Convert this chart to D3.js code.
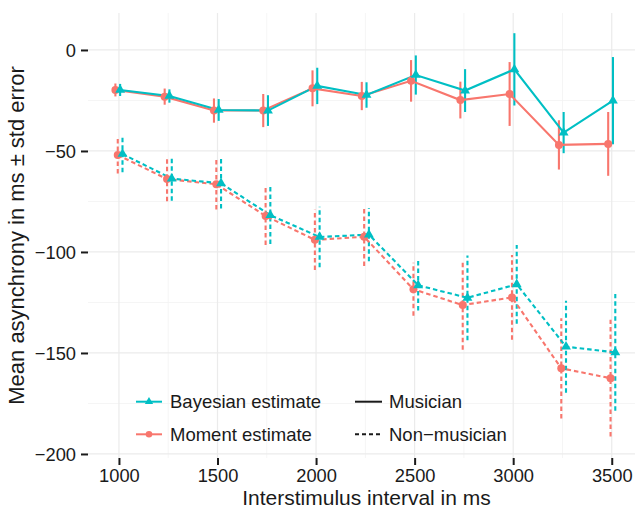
<!DOCTYPE html>
<html>
<head>
<meta charset="utf-8">
<script src="https://cdn.jsdelivr.net/npm/d3@7"></script>
<style>
  html, body { margin: 0; padding: 0; background: #fff; }
  svg { display: block; font-family: "Liberation Sans", Arial, Helvetica, sans-serif; }
</style>
</head>
<body>
<svg id="chart" width="635" height="509"></svg>
<script>
// Interstimulus intervals (ms)
const isi = [1000, 1250, 1500, 1750, 2000, 2250, 2500, 2750, 3000, 3250, 3500];

// Musicians: mean asynchrony and standard error (ms)
const musMomentMean  = [-19.8, -23.1, -30.0, -30.0, -19.0, -22.8, -15.3, -24.8, -21.8, -47.0, -46.5];
const musMomentSe    = [3.2, 4.0, 6.0, 8.2, 8.9, 7.0, 10.3, 9.1, 15.8, 12.2, 15.8];
const musBayesMean   = [-19.8, -22.8, -29.7, -30.0, -17.8, -22.3, -12.4, -20.1, -9.6, -40.9, -25.1];
const musBayesSe     = [3.0, 3.3, 5.4, 7.6, 9.0, 6.3, 9.7, 10.6, 17.9, 10.2, 21.6];

// Non-musicians: mean asynchrony and standard error (ms)
const nonMomentMean  = [-52.0, -63.9, -66.5, -82.2, -94.0, -92.5, -118.5, -126.3, -122.5, -157.6, -162.5];
const nonMomentSe    = [9.1, 11.0, 12.5, 14.4, 14.9, 14.5, 13.1, 22.1, 21.0, 24.8, 28.9];
const nonBayesMean   = [-51.5, -63.7, -66.0, -81.8, -92.6, -91.4, -116.5, -122.7, -116.0, -146.9, -149.7];
const nonBayesSe     = [9.0, 11.0, 12.5, 14.3, 15.0, 13.2, 12.5, 21.0, 19.5, 22.8, 28.9];

const xTicks = [1000, 1500, 2000, 2500, 3000, 3500];
const xMinor = [1250, 1750, 2250, 2750, 3250];
const yTicks = [0, -50, -100, -150, -200];
const yMinor = [-25, -75, -125, -175];

const estimatorLabels = ["Bayesian estimate", "Moment estimate"];
const groupLabels = ["Musician", "Non\u2212musician"];

const colBayes = "#00BFC4";
const colMoment = "#F8766D";

// Series in drawing order; dodge is a small horizontal offset in ms
const series = [
  { mean: musMomentMean, se: musMomentSe, color: colMoment, shape: "circle",   dashed: false, dodge: -18 },
  { mean: nonMomentMean, se: nonMomentSe, color: colMoment, shape: "circle",   dashed: true,  dodge: -6 },
  { mean: musBayesMean,  se: musBayesSe,  color: colBayes,  shape: "triangle", dashed: false, dodge: 6 },
  { mean: nonBayesMean,  se: nonBayesSe,  color: colBayes,  shape: "triangle", dashed: true,  dodge: 18 }
];

const svg = d3.select("#chart");
const panel = { left: 88, right: 635, top: 13, bottom: 458 };

const x = d3.scaleLinear().domain([843, 3618]).range([panel.left, panel.right]);
const y = d3.scaleLinear().domain([-202, 18.3]).range([panel.bottom, panel.top]);

const dashArr = "4.5,3";

// Grid
const grid = svg.append("g");
grid.selectAll("line.ymin").data(yMinor).join("line")
  .attr("x1", panel.left).attr("x2", panel.right)
  .attr("y1", d => y(d)).attr("y2", d => y(d))
  .attr("stroke", "#F2F2F2").attr("stroke-width", 0.8);
grid.selectAll("line.xmin").data(xMinor).join("line")
  .attr("y1", panel.top).attr("y2", panel.bottom)
  .attr("x1", d => x(d)).attr("x2", d => x(d))
  .attr("stroke", "#F2F2F2").attr("stroke-width", 0.8);
grid.selectAll("line.ymaj").data(yTicks).join("line")
  .attr("x1", panel.left).attr("x2", panel.right)
  .attr("y1", d => y(d)).attr("y2", d => y(d))
  .attr("stroke", "#EBEBEB").attr("stroke-width", 1.2);
grid.selectAll("line.xmaj").data(xTicks).join("line")
  .attr("y1", panel.top).attr("y2", panel.bottom)
  .attr("x1", d => x(d)).attr("x2", d => x(d))
  .attr("stroke", "#EBEBEB").attr("stroke-width", 1.2);

// Axes
const fmt = d => d < 0 ? "\u2212" + Math.abs(d) : String(d);
const xAxis = svg.append("g")
  .attr("transform", `translate(0,${panel.bottom})`)
  .call(d3.axisBottom(x).tickValues(xTicks).tickSize(7).tickPadding(4).tickFormat(fmt));
const yAxis = svg.append("g")
  .attr("transform", `translate(${panel.left},0)`)
  .call(d3.axisLeft(y).tickValues(yTicks).tickSize(7).tickPadding(5).tickFormat(fmt));
[xAxis, yAxis].forEach(a => {
  a.select(".domain").remove();
  a.selectAll(".tick line").attr("stroke", "#1a1a1a").attr("stroke-width", 2);
  a.selectAll(".tick text").attr("fill", "#1a1a1a")
    .style("font-size", "18.3px").style("font-family", "'Liberation Sans', Arial, sans-serif");
});
xAxis.selectAll(".tick text").attr("dy", "0.72em");
yAxis.selectAll(".tick text").attr("dy", "0.34em");

// Axis titles
svg.append("text")
  .attr("x", (panel.left + panel.right) / 2 + 5).attr("y", 504.5)
  .attr("text-anchor", "middle").attr("fill", "#1a1a1a")
  .style("font-size", "21px")
  .text("Interstimulus interval in ms");
svg.append("text")
  .attr("transform", `translate(24,${(panel.top + panel.bottom) / 2}) rotate(-90)`)
  .attr("text-anchor", "middle").attr("fill", "#1a1a1a")
  .style("font-size", "22px")
  .text("Mean asynchrony in ms \u00B1 std error");

// Data layers
const plot = svg.append("g");
const pts = s => isi.map((t, i) => ({ t: t + s.dodge, m: s.mean[i], e: s.se[i] }));

// Error bars
series.forEach(s => {
  plot.append("g").selectAll("line").data(pts(s)).join("line")
    .attr("x1", d => x(d.t)).attr("x2", d => x(d.t))
    .attr("y1", d => y(d.m - d.e)).attr("y2", d => y(d.m + d.e))
    .attr("stroke", s.color).attr("stroke-width", 2.1)
    .attr("stroke-dasharray", s.dashed ? dashArr : null);
});

// Lines
const line = d3.line().x(d => x(d.t)).y(d => y(d.m));
series.forEach(s => {
  plot.append("path").datum(pts(s))
    .attr("d", line).attr("fill", "none")
    .attr("stroke", s.color).attr("stroke-width", 2.1)
    .attr("stroke-dasharray", s.dashed ? dashArr : null);
});

// Points
const triSym = d3.symbol().type(d3.symbolTriangle).size(42);
series.forEach(s => {
  const g = plot.append("g");
  if (s.shape === "circle") {
    g.selectAll("circle").data(pts(s)).join("circle")
      .attr("cx", d => x(d.t)).attr("cy", d => y(d.m)).attr("r", 4)
      .attr("fill", s.color);
  } else {
    g.selectAll("path").data(pts(s)).join("path")
      .attr("d", triSym)
      .attr("transform", d => `translate(${x(d.t)},${y(d.m)})`)
      .attr("fill", s.color);
  }
});

// Legend
const legend = svg.append("g");
const rowY = [401.7, 434.3];
const estColors = [colBayes, colMoment];
estimatorLabels.forEach((lab, i) => {
  const g = legend.append("g");
  g.append("line").attr("x1", 136).attr("x2", 162).attr("y1", rowY[i]).attr("y2", rowY[i])
    .attr("stroke", estColors[i]).attr("stroke-width", 2);
  if (i === 0) {
    g.append("path").attr("d", d3.symbol().type(d3.symbolTriangle).size(30))
      .attr("transform", `translate(149,${rowY[i]})`).attr("fill", estColors[i]);
  } else {
    g.append("circle").attr("cx", 149).attr("cy", rowY[i]).attr("r", 3.3).attr("fill", estColors[i]);
  }
  g.append("text").attr("x", 170).attr("y", rowY[i]).attr("dy", "0.36em")
    .attr("fill", "#1a1a1a").style("font-size", "18.5px").text(lab);
});
groupLabels.forEach((lab, i) => {
  const g = legend.append("g");
  g.append("line").attr("x1", 355).attr("x2", 382).attr("y1", rowY[i]).attr("y2", rowY[i])
    .attr("stroke", "#1a1a1a").attr("stroke-width", 2)
    .attr("stroke-dasharray", i === 1 ? "4,3" : null);
  g.append("text").attr("x", 389).attr("y", rowY[i]).attr("dy", "0.36em")
    .attr("fill", "#1a1a1a").style("font-size", "18.5px").text(lab);
});
</script>
</body>
</html>
